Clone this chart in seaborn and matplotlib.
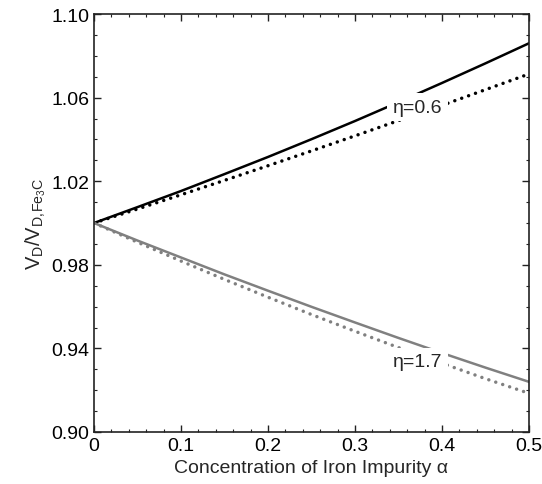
import matplotlib
matplotlib.use("Agg")
import matplotlib.pyplot as plt
import seaborn as sns
from matplotlib.ticker import MultipleLocator

alpha = [0.0, 0.05, 0.1, 0.15, 0.2, 0.25, 0.3, 0.35, 0.4, 0.45, 0.5]
eta06_solid = [1.000, 1.0076, 1.0153, 1.0234, 1.0316, 1.0401, 1.0488, 1.0578, 1.0670, 1.0764, 1.0860]
eta06_dotted = [1.000, 1.0067, 1.0135, 1.0204, 1.0274, 1.0345, 1.0417, 1.0490, 1.0563, 1.0638, 1.0713]
eta17_solid = [1.000, 0.9916, 0.9835, 0.9754, 0.9676, 0.9599, 0.9524, 0.9450, 0.9378, 0.9308, 0.9240]
eta17_dotted = [1.000, 0.9908, 0.9818, 0.9730, 0.9645, 0.9562, 0.9482, 0.9404, 0.9329, 0.9255, 0.9185]
xticks = [0, 0.1, 0.2, 0.3, 0.4, 0.5]
xticklabels = ["0", "0.1", "0.2", "0.3", "0.4", "0.5"]
yticks = [0.90, 0.94, 0.98, 1.02, 1.06, 1.10]
yticklabels = ["0.90", "0.94", "0.98", "1.02", "1.06", "1.10"]

sns.set_theme(style="ticks")
plt.rcParams['font.family'] = ['Liberation Sans', 'DejaVu Sans']
plt.rcParams['mathtext.fontset'] = 'custom'
plt.rcParams['mathtext.rm'] = 'Liberation Sans'
plt.rcParams['mathtext.it'] = 'Liberation Sans'

fig = plt.figure(figsize=(5.42, 4.85), dpi=100)
ax = fig.add_axes([94/542, 1-433/485, 435/542, 418/485])

dot = (0, (0.01, 2.1))
sns.lineplot(x=alpha, y=eta06_solid, ax=ax, color="black", lw=1.8, linestyle="-")
sns.lineplot(x=alpha, y=eta06_dotted, ax=ax, color="black", lw=2.5, linestyle=dot,
             dash_capstyle="round")
sns.lineplot(x=alpha, y=eta17_solid, ax=ax, color="#808080", lw=1.8, linestyle="-")
sns.lineplot(x=alpha, y=eta17_dotted, ax=ax, color="#808080", lw=2.5, linestyle=dot,
             dash_capstyle="round")

ax.text(0.372, 1.0555, "η=0.6", fontsize=14, ha="center", va="center",
        bbox=dict(facecolor="white", edgecolor="none", pad=4.0), zorder=5)
ax.text(0.372, 0.9335, "η=1.7", fontsize=14, ha="center", va="center",
        bbox=dict(facecolor="white", edgecolor="none", pad=4.0), zorder=5)

ax.set_xlim(0, 0.5)
ax.set_ylim(0.90, 1.10)
ax.set_xticks(xticks)
ax.set_xticklabels(xticklabels)
ax.set_yticks(yticks)
ax.set_yticklabels(yticklabels)
ax.xaxis.set_minor_locator(MultipleLocator(0.02))
ax.yaxis.set_minor_locator(MultipleLocator(0.01))
ax.tick_params(which="both", direction="in", top=True, right=True, colors="#222222",
               labelcolor="black", labelsize=14)
ax.tick_params(which="major", length=5, width=1)
ax.tick_params(which="minor", length=2.5, width=0.8)
for s in ax.spines.values():
    s.set_linewidth(1.2)
    s.set_color("#222222")

ax.set_xlabel("Concentration of Iron Impurity α", fontsize=14, labelpad=4)
ax.set_ylabel(r"$\mathregular{V_D/V_{D,\!Fe_3C}}$", fontsize=14.5, labelpad=2)

fig.savefig("out.png", dpi=100)
